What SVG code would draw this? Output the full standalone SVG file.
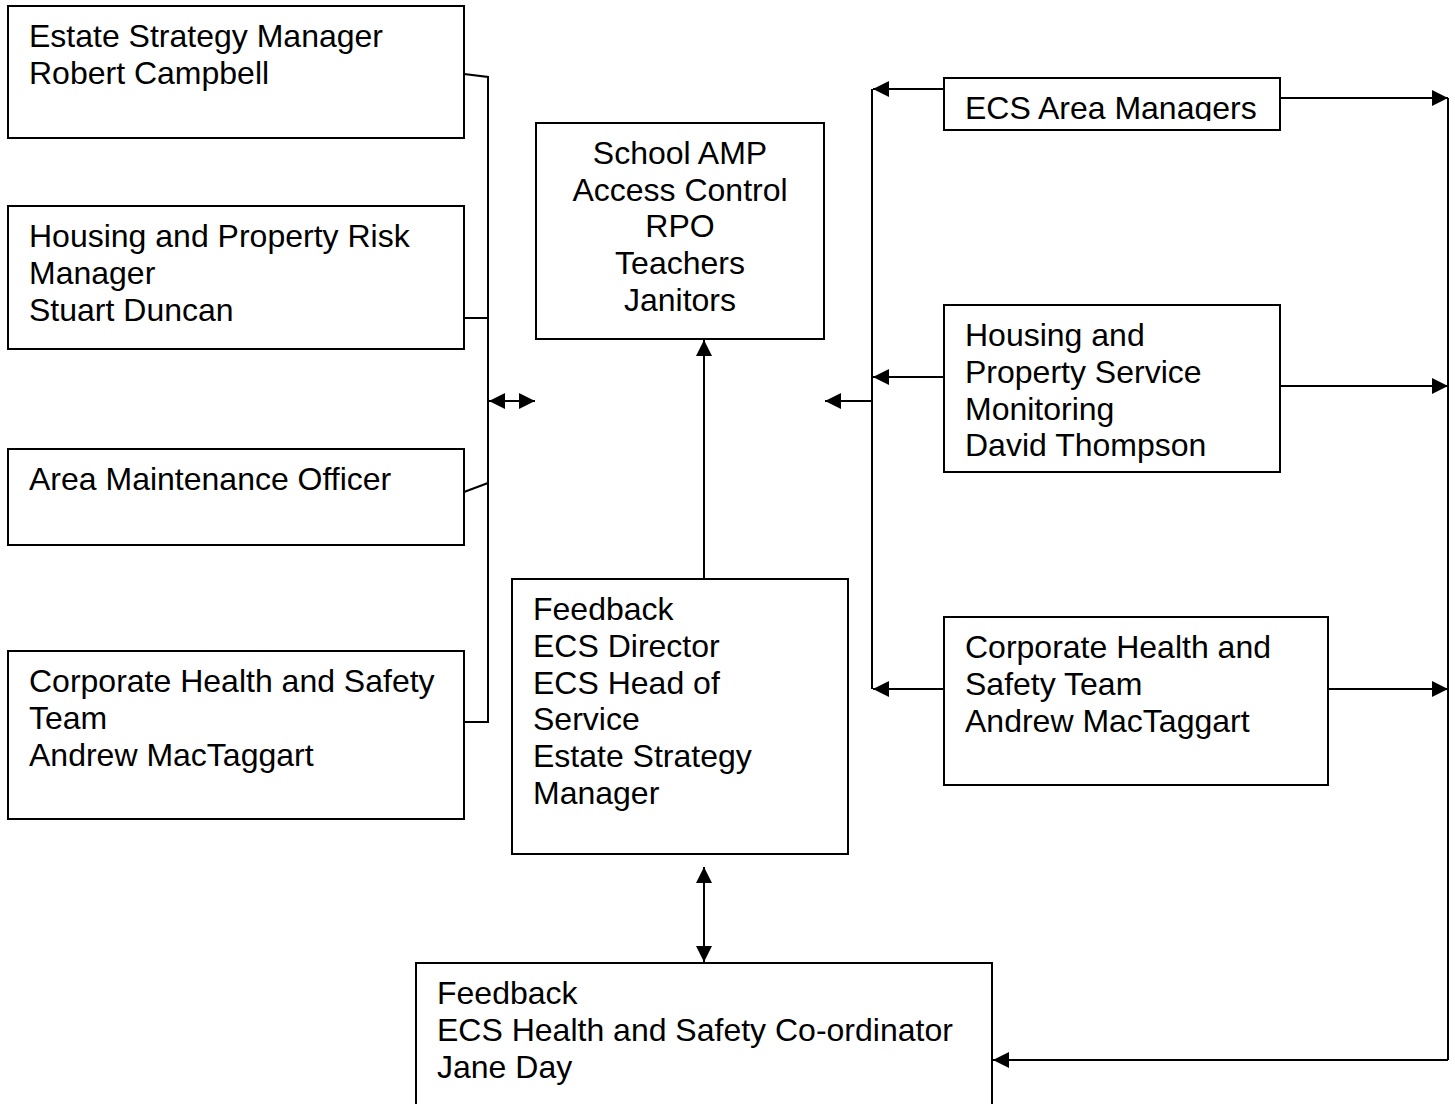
<svg xmlns="http://www.w3.org/2000/svg" width="1455" height="1104" viewBox="0 0 1455 1104">
<style>
.box{fill:#fff;stroke:#000;stroke-width:2}
.t{font-family:"Liberation Sans",Arial,sans-serif;font-size:32px;fill:#000}
.c{text-anchor:middle}
.ln{fill:none;stroke:#000;stroke-width:2}
</style>
<defs>
<marker id="ah" viewBox="0 0 16 16" refX="16" refY="8" markerWidth="16" markerHeight="16" markerUnits="userSpaceOnUse" orient="auto-start-reverse">
<path d="M0,0 L16,8 L0,16 z" fill="#000"/>
</marker>
<clipPath id="clipEcs"><rect x="944" y="78" width="336" height="43"/></clipPath>
</defs>
<rect width="1455" height="1104" fill="#fff"/>

<g id="connectors">
<polyline class="ln" points="464,74 488,77 488,722 464,722"/>
<line class="ln" x1="464" y1="318" x2="488" y2="318"/>
<line class="ln" x1="464" y1="492" x2="488" y2="483"/>
<line class="ln" x1="489" y1="401" x2="535" y2="401" marker-start="url(#ah)" marker-end="url(#ah)"/>
<line class="ln" x1="704" y1="579" x2="704" y2="340" marker-end="url(#ah)"/>
<line class="ln" x1="704" y1="867" x2="704" y2="962" marker-start="url(#ah)" marker-end="url(#ah)"/>
<line class="ln" x1="872" y1="89" x2="872" y2="689"/>
<line class="ln" x1="944" y1="89" x2="873" y2="89" marker-end="url(#ah)"/>
<line class="ln" x1="944" y1="377" x2="873" y2="377" marker-end="url(#ah)"/>
<line class="ln" x1="944" y1="689" x2="873" y2="689" marker-end="url(#ah)"/>
<line class="ln" x1="872" y1="401" x2="825" y2="401" marker-end="url(#ah)"/>
<line class="ln" x1="1280" y1="98" x2="1448" y2="98" marker-end="url(#ah)"/>
<line class="ln" x1="1280" y1="386" x2="1448" y2="386" marker-end="url(#ah)"/>
<line class="ln" x1="1328" y1="689" x2="1448" y2="689" marker-end="url(#ah)"/>
<line class="ln" x1="1448" y1="98" x2="1448" y2="1060"/>
<line class="ln" x1="1448" y1="1060" x2="993" y2="1060" marker-end="url(#ah)"/>
</g>

<g id="n-estate">
<rect class="box" x="8" y="6" width="456" height="132"/>
<text class="t" x="29" y="47">Estate Strategy Manager</text>
<text class="t" x="29" y="84">Robert Campbell</text>
</g>
<g id="n-risk">
<rect class="box" x="8" y="206" width="456" height="143"/>
<text class="t" x="29" y="247">Housing and Property Risk</text>
<text class="t" x="29" y="284">Manager</text>
<text class="t" x="29" y="321">Stuart Duncan</text>
</g>
<g id="n-amo">
<rect class="box" x="8" y="449" width="456" height="96"/>
<text class="t" x="29" y="490">Area Maintenance Officer</text>
</g>
<g id="n-chs-left">
<rect class="box" x="8" y="651" width="456" height="168"/>
<text class="t" x="29" y="692">Corporate Health and Safety</text>
<text class="t" x="29" y="729">Team</text>
<text class="t" x="29" y="766">Andrew MacTaggart</text>
</g>
<g id="n-school">
<rect class="box" x="536" y="123" width="288" height="216"/>
<text class="t c" x="680" y="164">School AMP</text>
<text class="t c" x="680" y="201">Access Control</text>
<text class="t c" x="680" y="237">RPO</text>
<text class="t c" x="680" y="274">Teachers</text>
<text class="t c" x="680" y="311">Janitors</text>
</g>
<g id="n-feedback">
<rect class="box" x="512" y="579" width="336" height="275"/>
<text class="t" x="533" y="620">Feedback</text>
<text class="t" x="533" y="657">ECS Director</text>
<text class="t" x="533" y="694">ECS Head of</text>
<text class="t" x="533" y="730">Service</text>
<text class="t" x="533" y="767">Estate Strategy</text>
<text class="t" x="533" y="804">Manager</text>
</g>
<g id="n-coord">
<rect class="box" x="416" y="963" width="576" height="150"/>
<text class="t" x="437" y="1004">Feedback</text>
<text class="t" x="437" y="1041">ECS Health and Safety Co-ordinator</text>
<text class="t" x="437" y="1078">Jane Day</text>
</g>
<g id="n-ecs-area">
<rect class="box" x="944" y="78" width="336" height="52"/>
<text class="t" x="965" y="119" clip-path="url(#clipEcs)">ECS Area Managers</text>
</g>
<g id="n-hps">
<rect class="box" x="944" y="305" width="336" height="167"/>
<text class="t" x="965" y="346">Housing and</text>
<text class="t" x="965" y="383">Property Service</text>
<text class="t" x="965" y="420">Monitoring</text>
<text class="t" x="965" y="456">David Thompson</text>
</g>
<g id="n-chs-right">
<rect class="box" x="944" y="617" width="384" height="168"/>
<text class="t" x="965" y="658">Corporate Health and</text>
<text class="t" x="965" y="695">Safety Team</text>
<text class="t" x="965" y="732">Andrew MacTaggart</text>
</g>
</svg>
